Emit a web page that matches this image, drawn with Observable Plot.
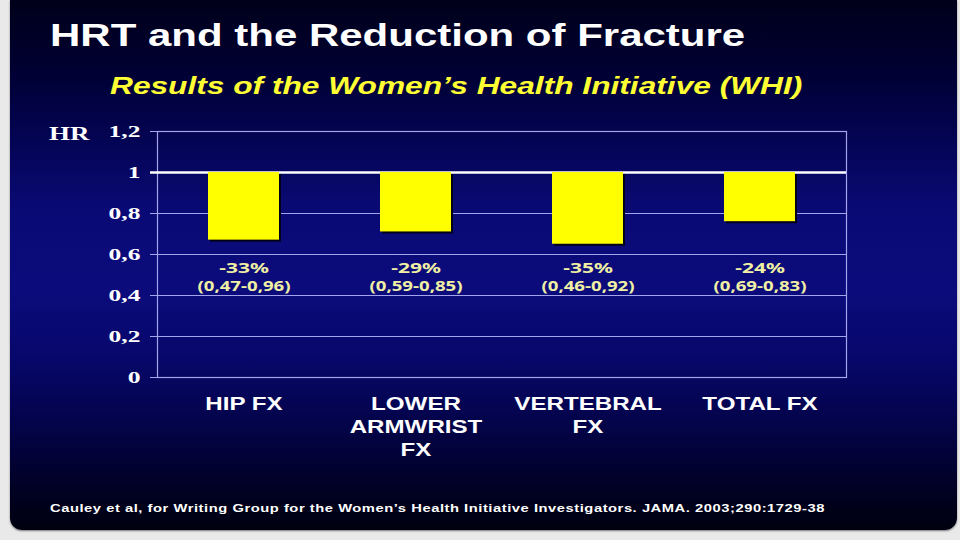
<!DOCTYPE html>
<html>
<head>
<meta charset="utf-8">
<script src="https://cdn.jsdelivr.net/npm/d3@7"></script>
<script src="https://cdn.jsdelivr.net/npm/@observablehq/plot@0.6"></script>
<style>
  html, body { margin: 0; padding: 0; }
  body { width: 960px; height: 540px; background: #e9e9e9; position: relative; overflow: hidden; font-family: "Liberation Sans", Arial, sans-serif; }
  #slide { position: absolute; left: 10px; top: 0; width: 947px; height: 530px;
    background: linear-gradient(to bottom, #00001a 0%, #000030 12%, #03034e 24%, #0a0a76 40%, #0b0b7c 55%, #07076a 68%, #030344 82%, #00001c 95%, #000010 100%);
    border-bottom-left-radius: 12px; border-bottom-right-radius: 12px;
    box-shadow: 0 1px 2px #777; }
  .txt { position: absolute; white-space: nowrap; transform-origin: 0 0; line-height: 1; }
  #title { left: 50px; top: 20px; font-size: 31.5px; font-weight: bold; color: #ffffff; transform: scaleX(1.333); }
  #subtitle { left: 110px; top: 74px; font-size: 24px; font-weight: bold; font-style: italic; color: #ffff33; transform: scaleX(1.32); }
  #hr { left: 49px; top: 124px; font-family: "Liberation Serif", "Times New Roman", serif; font-size: 19px; font-weight: bold; color: #ffffff; transform: scaleX(1.42); }
  #caption { left: 50px; top: 503px; font-size: 11px; font-weight: bold; color: #ffffff; letter-spacing: 0.4px; transform: scaleX(1.34); }
  #chart { position: absolute; left: 0; top: 110px; }
</style>
</head>
<body>
<div id="slide"></div>
<div class="txt" id="title">HRT and the Reduction of Fracture</div>
<div class="txt" id="subtitle">Results of the Women’s Health Initiative (WHI)</div>
<div class="txt" id="hr">HR</div>
<div class="txt" id="caption">Cauley et al, for Writing Group for the Women’s Health Initiative Investigators. JAMA. 2003;290:1729-38</div>
<div id="chart"></div>
<script>
// ---- data ----
const categories = ["HIP FX", "LOWER ARMWRIST FX", "VERTEBRAL FX", "TOTAL FX"];
const categoryLabels = ["HIP FX", "LOWER\nARMWRIST\nFX", "VERTEBRAL\nFX", "TOTAL FX"];
const hazardRatios = [0.67, 0.71, 0.65, 0.76];
const reductionLabels = ["-33%", "-29%", "-35%", "-24%"];
const ciLabels = ["(0,47-0,96)", "(0,59-0,85)", "(0,46-0,92)", "(0,69-0,83)"];
const yTicks = [0, 0.2, 0.4, 0.6, 0.8, 1, 1.2];
const referenceHR = 1;

const rows = categories.map((c, i) => ({
  cat: c, label: categoryLabels[i], hr: hazardRatios[i],
  pct: reductionLabels[i], ci: ciLabels[i]
}));
const labelOf = new Map(rows.map(d => [d.cat, d.label]));
const fmt = v => String(+v.toFixed(1)).replace(".", ",");

const grid = "#a4a4ec";
const plot = Plot.plot({
  width: 960,
  height: 370,
  marginLeft: 157,
  marginRight: 114,
  marginTop: 21,
  marginBottom: 103,
  style: { background: "transparent", overflow: "visible" },
  x: { domain: categories, paddingInner: 0.59, paddingOuter: 0.295 },
  y: { domain: [0, 1.2] },
  marks: [
    Plot.ruleY(yTicks.filter(t => t !== referenceHR), { stroke: grid, strokeWidth: 1 }),
    Plot.frame({ stroke: grid, strokeWidth: 1.2 }),
    Plot.axisY({ ticks: yTicks, tickSize: 7, tickPadding: 10, stroke: grid, fill: "#ffffff",
      tickFormat: fmt, label: null, fontSize: 17, fontWeight: "bold",
      fontFamily: "Liberation Serif, Times New Roman, serif" }),
    Plot.axisY({ ticks: [referenceHR], tickSize: 7, stroke: "#ffffff", strokeWidth: 2.5, text: null, label: null }),
    Plot.ruleY([referenceHR], { stroke: "#ffffff", strokeWidth: 2.5 }),
    Plot.barY(rows, { x: "cat", y1: () => referenceHR, y2: "hr", fill: "#000018", dx: 2, dy: 2 }),
    Plot.barY(rows, { x: "cat", y1: () => referenceHR, y2: "hr", fill: "#ffff00" }),
    Plot.text(rows, { x: "cat", y: () => 0.532, text: "pct", fill: "#f0f0a4", fontSize: 15, fontWeight: "bold" }),
    Plot.text(rows, { x: "cat", y: () => 0.444, text: "ci", fill: "#f0f0a4", fontSize: 13.5, fontWeight: "bold" }),
    Plot.axisX({ tickSize: 0, tickPadding: 16, lineAnchor: "top", lineHeight: 1.28,
      tickFormat: d => labelOf.get(d), fill: "#ffffff", fontSize: 18, fontWeight: "bold",
      label: null, fontFamily: "Liberation Sans, Arial, sans-serif" })
  ]
});
document.getElementById("chart").appendChild(plot);

// horizontally stretch the glyphs like the original (slide was widened 4:3 -> 16:9)
function stretch(group, k) {
  if (!group) return;
  group.querySelectorAll("text").forEach(t => {
    const spans = t.querySelectorAll("tspan");
    (spans.length ? Array.from(spans) : [t]).forEach(el => {
      const w = el.getComputedTextLength();
      if (w > 0) {
        el.setAttribute("textLength", (w * k).toFixed(1));
        el.setAttribute("lengthAdjust", "spacingAndGlyphs");
      }
    });
  });
}
stretch(plot.querySelector('g[aria-label="y-axis tick label"]'), 1.5);
stretch(plot.querySelector('g[aria-label="x-axis tick label"]'), 1.34);
const textGroups = plot.querySelectorAll('g[aria-label="text"]');
stretch(textGroups[0], 1.4);
stretch(textGroups[1], 1.38);
</script>
</body>
</html>
